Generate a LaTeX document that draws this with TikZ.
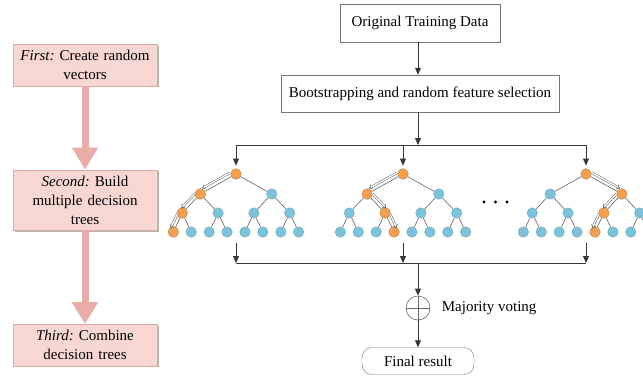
\documentclass[tikz,border=0pt]{standalone}
\usepackage{fontspec}
\setmainfont{Liberation Serif}
\usetikzlibrary{arrows.meta,positioning,calc,shadows}
\definecolor{pinkfill}{RGB}{248,214,210}
\definecolor{pinkedge}{RGB}{222,168,162}
\definecolor{pinkarrow}{RGB}{233,172,167}
\definecolor{nodeblue}{RGB}{124,194,220}
\definecolor{nodeorange}{RGB}{245,158,78}
\definecolor{linegray}{RGB}{55,55,55}
\definecolor{edgegray}{RGB}{95,95,95}

\begin{document}
\begin{tikzpicture}[x=1pt,y=-1pt,
  font=\fontsize{15}{19}\selectfont\frenchspacing,
  phasebox/.style={draw=pinkedge,fill=pinkfill,text width=134pt,align=center,
    inner xsep=5pt,inner ysep=6pt,
    drop shadow={shadow xshift=1.5pt,shadow yshift=-1.5pt,fill=black!50,opacity=0.6}},
  phasearrow/.style={draw=pinkarrow,line width=7pt,-{Triangle[length=22pt,width=25pt]}},
  flowbox/.style={draw=black!55,fill=white,inner xsep=8pt,minimum height=38pt},
  arr/.style={draw=linegray,line width=0.8pt,-{Triangle[length=7pt,width=6pt]}},
  treenode/.style={circle,draw=nodeblue!80!black,fill=nodeblue,line width=0.3pt,
    minimum size=10.5pt,inner sep=0pt},
  hotnode/.style={draw=nodeorange!85!black,fill=nodeorange},
  treeedge/.style={draw=edgegray,line width=0.6pt},
  pathline/.style={draw=edgegray,line width=0.5pt,double,double distance=1.3pt,-{Implies}}]
  \useasboundingbox (0,0) rectangle (643,381);
  \clip (0,0) rectangle (643,381);

  % Three steps on the left
  \node[phasebox] (first) at (85,65) {\textit{First:} Create random\\vectors};
  \node[phasebox] (second) at (85,200) {\textit{Second:} Build\\multiple decision\\trees};
  \node[phasebox] (third) at (85,345) {\textit{Third:} Combine\\decision trees};
  \draw[phasearrow] (first) -- (second);
  \draw[phasearrow] (second) -- (third);

  % Data boxes
  \node[flowbox,minimum width=160pt] (orig) at (420,23) {Original Training Data};
  \node[flowbox,minimum height=37pt] (boot) at (420,93.5) {Bootstrapping and random feature selection};
  \coordinate (bustop) at (418,145);
  \coordinate (busbot) at (418,263);
  \draw[arr] (orig.south -| bustop) -- (boot.north -| bustop);
  \draw[arr] (boot.south -| bustop) -- (bustop);

  % Decision trees
  \foreach \t/\cx in {a/236,b/403,c/586}{
    \foreach \i/\dx/\y in {1/0/174,2/-35.8/194,3/35.8/194,
        4/-53.7/213,5/-17.9/213,6/17.9/213,7/53.7/213,
        8/-62.65/232,9/-44.75/232,10/-26.85/232,11/-8.95/232,
        12/8.95/232,13/26.85/232,14/44.75/232,15/62.65/232}
      \node[treenode] (\t-\i) at (\cx+\dx,\y) {};
    \foreach \i in {2,...,15}{
      \pgfmathtruncatemacro\p{\i/2}
      \draw[treeedge] (\t-\p) -- (\t-\i);
    }
    \draw[arr,shorten >=3pt] (\t-1 |- bustop) -- (\t-1);
    \draw[arr] ($(\t-1 |- \t-8.south)+(0,6)$) -- (\t-1 |- busbot);
  }
  % Chosen paths
  \foreach \n in {a-1,a-2,a-4,a-8,b-1,b-2,b-5,b-11,c-1,c-3,c-6,c-12}
    \path[hotnode,line width=0.3pt] (\n) circle (5.25pt);
  \foreach \a/\b/\s in {a-1/a-2/-90,a-2/a-4/-90,a-4/a-8/-90,
      b-1/b-2/-90,b-2/b-5/90,b-5/b-11/90,
      c-1/c-3/90,c-3/c-6/-90,c-6/c-12/-90}
    \draw[pathline] ($(\a)!0.12!(\b)!4pt!\s:(\b)$) -- ($(\a)!0.9!(\b)!4pt!\s:(\b)$);
  % Buses
  \draw[linegray,line width=0.8pt] (a-1 |- bustop) -- (c-1 |- bustop);
  \draw[linegray,line width=0.8pt] (a-1 |- busbot) -- (c-1 |- busbot);
  \foreach \x in {484,495.5,507}
    \fill (\x,202) circle (1.6pt);

  % Voting
  \node[circle,draw=black!60,line width=0.6pt,minimum size=24pt,inner sep=0pt] (vote) at (418,308) {};
  \draw[black!60,line width=0.6pt] (vote.north) -- (vote.south);
  \draw[black!60,line width=0.6pt] (vote.west) -- (vote.east);
  \node[right=8pt of vote] (votelbl) {Majority voting};
  \node[draw=black!55,rounded corners=10pt,minimum width=112pt,minimum height=27pt] (final) at (418,361) {Final result};
  \draw[arr] (busbot) -- (vote);
  \draw[arr] (vote) -- (final);
\end{tikzpicture}
\end{document}
